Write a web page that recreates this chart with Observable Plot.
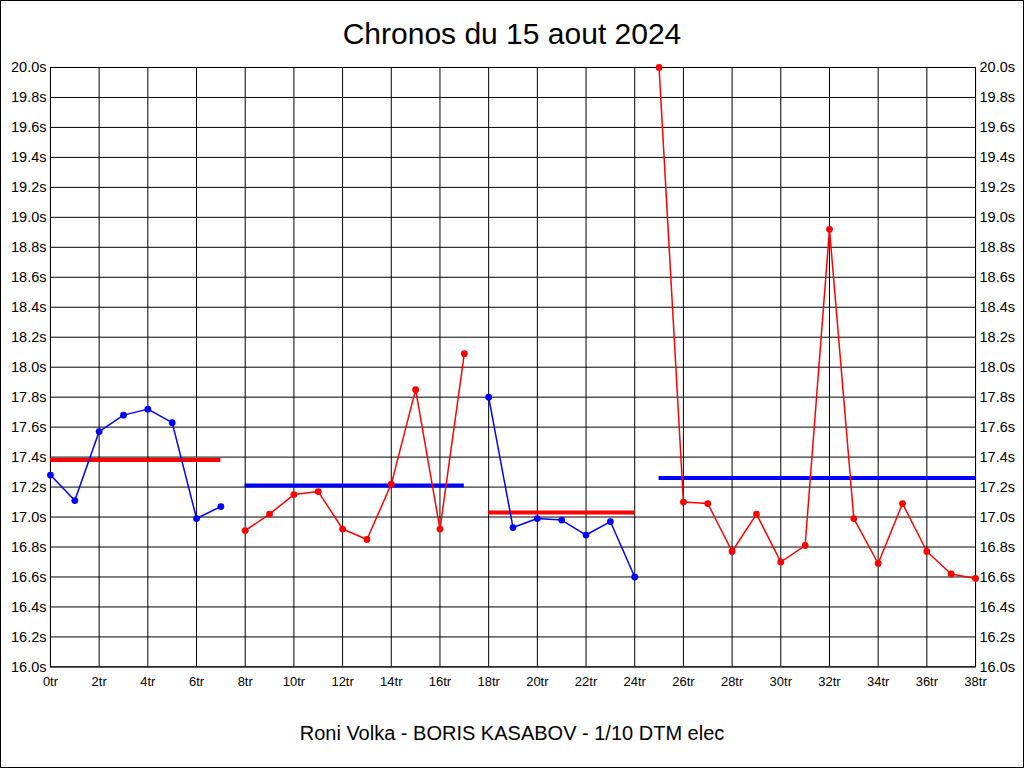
<!DOCTYPE html>
<html>
<head>
<meta charset="utf-8">
<script src="https://cdn.jsdelivr.net/npm/d3@7"></script>
<script src="https://cdn.jsdelivr.net/npm/@observablehq/plot@0.6"></script>
<style>
  html, body { margin: 0; padding: 0; background: #fff; }
  #frame { position: relative; width: 1024px; height: 768px; box-sizing: border-box; border: 1px solid #000; overflow: hidden; font-family: "Liberation Sans", Arial, sans-serif; }
  #title { position: absolute; left: 0; width: 1022px; top: 16px; text-align: center; font-size: 30px; color: #000; }
  #chart { position: absolute; left: -1px; top: 49px; }
  #caption { position: absolute; left: 0; width: 1022px; top: 721px; text-align: center; font-size: 20px; color: #000; }
</style>
</head>
<body>
<div id="frame">
  <div id="title">Chronos du 15 aout 2024</div>
  <div id="chart"></div>
  <div id="caption">Roni Volka - BORIS KASABOV - 1/10 DTM elec</div>
</div>
<script>
// Lap times (seconds), lap 0..38
const lapTimes = [
  17.28, 17.11, 17.57, 17.68, 17.72, 17.63, 16.99, 17.07,
  16.91, 17.02, 17.15, 17.17, 16.92, 16.85, 17.22, 17.85, 16.92, 18.09,
  17.80, 16.93, 16.99, 16.98, 16.88, 16.97, 16.60,
  20.00, 17.10, 17.09, 16.77, 17.02, 16.70, 16.81, 18.92, 16.99, 16.69, 17.09, 16.77, 16.62, 16.59
];
// Stints
const stintStart = [0, 8, 18, 25];
const stintEnd = [7, 17, 24, 38];
const stintColor = ["#0000ff", "#ff0000", "#0000ff", "#ff0000"];
const stintAvg = [17.38, 17.21, 17.03, 17.26];
const avgColor = ["#ff0000", "#0000ff", "#ff0000", "#0000ff"];
// Axis ticks
const xTicks = d3.range(0, 39, 2);
const yTicks = d3.range(0, 21).map(i => +(16 + i * 0.2).toFixed(1));

const rows = [];
stintStart.forEach((s, k) => {
  for (let lap = s; lap <= stintEnd[k]; lap++) rows.push({lap, time: lapTimes[lap], stint: k, color: stintColor[k]});
});
const avgRows = stintStart.map((s, k) => ({x1: s, x2: stintEnd[k], y: stintAvg[k], color: avgColor[k]}));

const chart = Plot.plot({
  width: 1024,
  height: 651,
  marginTop: 17,
  marginBottom: 34,
  marginLeft: 50,
  marginRight: 48,
  style: {fontFamily: "'Liberation Sans', Arial, sans-serif", fontSize: "14px", color: "#000", background: "transparent"},
  x: {domain: [0, 38], ticks: xTicks, tickFormat: d => d + "tr"},
  y: {domain: [16, 20], ticks: yTicks, tickFormat: d => d.toFixed(1) + "s"},
  marks: [
    Plot.gridX(xTicks, {stroke: "#000", strokeOpacity: 1, strokeWidth: 1}),
    Plot.gridY(yTicks, {stroke: "#000", strokeOpacity: 1, strokeWidth: 1}),
    Plot.frame({stroke: "#000", strokeWidth: 1}),
    Plot.axisX({ticks: xTicks, tickSize: 0, tickPadding: 10, label: null, tickFormat: d => d + "tr", fontSize: 13}),
    Plot.axisY({anchor: "left", ticks: yTicks, tickSize: 0, tickPadding: 4, label: null, tickFormat: d => d.toFixed(1) + "s", fontSize: 14.5}),
    Plot.axisY({anchor: "right", ticks: yTicks, tickSize: 0, tickPadding: 4, label: null, tickFormat: d => d.toFixed(1) + "s", fontSize: 14.5}),
    Plot.ruleY(avgRows, {x1: "x1", x2: "x2", y: "y", stroke: "color", strokeWidth: 4}),
    Plot.line(rows, {x: "lap", y: "time", z: "stint", stroke: "color", strokeWidth: 1.5}),
    Plot.dot(rows, {x: "lap", y: "time", fill: "color", r: 3.4, stroke: "none"})
  ]
});
document.getElementById("chart").appendChild(chart);
</script>
</body>
</html>
